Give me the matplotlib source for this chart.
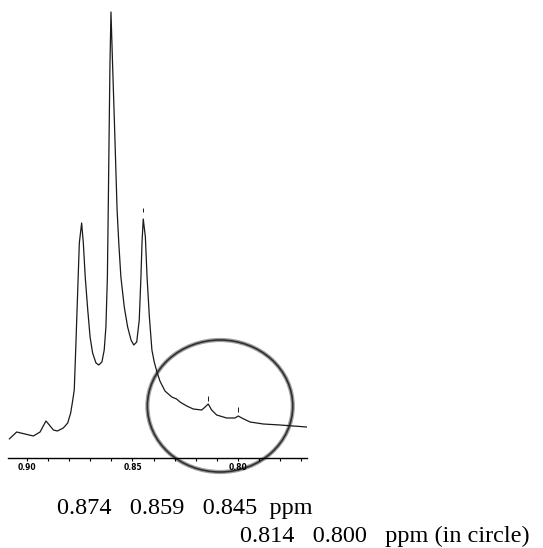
import matplotlib
matplotlib.use("Agg")
import matplotlib.pyplot as plt
from matplotlib.patches import Ellipse

# spectrum trace: chemical shift (ppm) and intensity (a.u.)
shift_ppm = [0.9084, 0.9049, 0.9009, 0.8970, 0.8938, 0.8923, 0.8910, 0.8894,
             0.8875, 0.8856, 0.8828, 0.8807, 0.8793, 0.8783, 0.8776, 0.8768,
             0.8760, 0.8752, 0.8741, 0.8733, 0.8724, 0.8712, 0.8701, 0.8689,
             0.8673, 0.8660, 0.8645, 0.8634, 0.8626, 0.8619, 0.8615, 0.8610,
             0.8607, 0.8602, 0.8594, 0.8586, 0.8573, 0.8565, 0.8555, 0.8539,
             0.8523, 0.8507, 0.8494, 0.8480, 0.8468, 0.8460, 0.8455, 0.8449,
             0.8439, 0.8431, 0.8420, 0.8408, 0.8397, 0.8384, 0.8370, 0.8346,
             0.8314, 0.8291, 0.8275, 0.8243, 0.8212, 0.8172, 0.8156, 0.8141,
             0.8125, 0.8101, 0.8054, 0.8014, 0.7999, 0.7982, 0.7943, 0.7880,
             0.7801, 0.7674]
intensity = [19, 26, 24, 22, 26, 32, 37, 33,
             28, 27, 30, 35, 45, 58, 68, 115,
             165, 215, 235, 215, 181, 148, 121, 105,
             95, 93, 96, 108, 131, 181, 248, 338,
             391, 446, 391, 338, 248, 215, 181, 151,
             131, 118, 113, 116, 138, 181, 215, 239,
             221, 181, 141, 108, 96, 86, 77, 67,
             61, 59, 56, 52, 49, 48, 51, 54,
             48, 43, 40, 40, 42, 40, 36, 34,
             33, 31]

# little peak-pick marks above picked peaks
pick_ppm = [0.8449, 0.8141, 0.7999]
pick_lo = [246, 57, 46]
pick_hi = [250, 62, 51]

# hand-drawn circle around the minor peaks
circle_center = (0.8085, 52)
circle_w = 0.0689
circle_h = 132

major_ticks = [0.90, 0.85, 0.80]
major_labels = ["0.90", "0.85", "0.80"]
minor_ticks = [0.89, 0.88, 0.87, 0.86, 0.84, 0.83, 0.82, 0.81, 0.79, 0.78, 0.77]

line1 = "0.874   0.859   0.845  ppm"
line2 = "0.814   0.800   ppm (in circle)"

W, H = 543, 548
fig = plt.figure(figsize=(W / 100, H / 100), dpi=100)
ax = fig.add_axes([8 / W, 90 / H, 299 / W, 453 / H])

ax.plot(shift_ppm, intensity, color="#1a1a1a", lw=0.9,
        solid_joinstyle="round", solid_capstyle="round")
ax.vlines(pick_ppm, pick_lo, pick_hi, color="#1a1a1a", lw=0.7)

# fuzzy grey pen stroke with a darker core
ax.add_patch(Ellipse(circle_center, circle_w, circle_h, fill=False,
                     edgecolor="#a0a0a0", lw=3.0, clip_on=False))
ax.add_patch(Ellipse(circle_center, circle_w, circle_h, fill=False,
                     edgecolor="#303030", lw=1.2, clip_on=False))

ax.set_xlim(0.9090, 0.7673)
ax.set_ylim(0, 453)
for s in ["top", "left", "right"]:
    ax.spines[s].set_visible(False)
ax.spines["bottom"].set_linewidth(1.0)
ax.set_yticks([])
ax.set_xticks(major_ticks)
ax.set_xticklabels(major_labels, fontsize=5.5, fontweight="bold")
ax.set_xticks(minor_ticks, minor=True)
ax.tick_params(axis="x", which="both", direction="out", length=2, width=0.8, pad=1.5)

fig.text(57 / W, (H - 514) / H, line1, fontsize=17.5, family="Liberation Serif",
         va="baseline", ha="left")
fig.text(240 / W, (H - 542) / H, line2, fontsize=17.5, family="Liberation Serif",
         va="baseline", ha="left")

fig.savefig("out.png", dpi=100)
